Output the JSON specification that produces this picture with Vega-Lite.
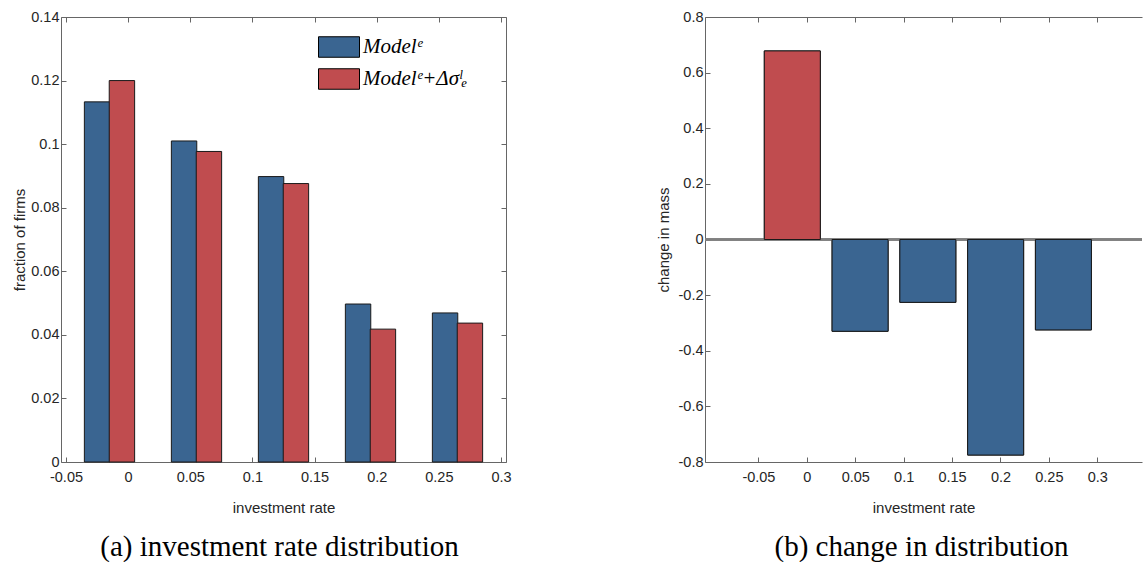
{
  "$schema": "https://vega.github.io/schema/vega-lite/v6.json",
  "background": "white",
  "padding": {"left": 12, "top": 9, "right": 0, "bottom": 0},
  "spacing": 144,
  "config": {
    "view": {"stroke": null},
    "axis": {
      "domainColor": "#666666", "domainWidth": 1,
      "tickColor": "#666666", "tickSize": -5, "tickWidth": 1,
      "labelFont": "Liberation Sans", "labelFontSize": 14.5, "labelColor": "#262626",
      "titleFont": "Liberation Sans", "titleFontSize": 15, "titleFontWeight": "normal", "titleColor": "#262626",
      "grid": false, "labelOverlap": false, "labelFlush": false
    }
  },
  "hconcat": [
    {
      "width": 445,
      "height": 445,
      "title": {"text": "(a) investment rate distribution", "orient": "bottom", "anchor": "middle", "font": "Liberation Serif", "fontSize": 29, "fontWeight": "normal", "color": "#000000", "offset": 18, "dx": -4},
      "data": {"values": [
        {"series": "Modelᵉ", "rate": -0.025, "fraction": 0.1133},
        {"series": "Modelᵉ+Δσˡₑ", "rate": -0.005, "fraction": 0.1200},
        {"series": "Modelᵉ", "rate": 0.045, "fraction": 0.1010},
        {"series": "Modelᵉ+Δσˡₑ", "rate": 0.065, "fraction": 0.0977},
        {"series": "Modelᵉ", "rate": 0.115, "fraction": 0.0898},
        {"series": "Modelᵉ+Δσˡₑ", "rate": 0.135, "fraction": 0.0876},
        {"series": "Modelᵉ", "rate": 0.185, "fraction": 0.0497},
        {"series": "Modelᵉ+Δσˡₑ", "rate": 0.205, "fraction": 0.0418},
        {"series": "Modelᵉ", "rate": 0.255, "fraction": 0.0469},
        {"series": "Modelᵉ+Δσˡₑ", "rate": 0.275, "fraction": 0.0437}
      ]},
      "layer": [
        {
          "mark": {"type": "bar", "width": 25.4, "stroke": "#1a1a1a", "strokeWidth": 1},
          "encoding": {
            "x": {"field": "rate", "type": "quantitative",
              "scale": {"domain": [-0.05, 0.3], "nice": false, "zero": false},
              "axis": {"orient": "bottom", "values": [-0.05, 0, 0.05, 0.1, 0.15, 0.2, 0.25, 0.3], "labelExpr": "'' + datum.value", "labelPadding": 13, "title": "investment rate", "titleY": 45, "titleBaseline": "middle"}},
            "y": {"field": "fraction", "type": "quantitative",
              "scale": {"domain": [0, 0.14], "nice": false, "zero": false},
              "axis": {"orient": "left", "values": [0, 0.02, 0.04, 0.06, 0.08, 0.1, 0.12, 0.14], "labelExpr": "'' + datum.value", "labelPadding": 7, "title": "fraction of firms", "titleX": -42, "titleY": 222.5, "titleAngle": 270, "titleAlign": "center", "titleBaseline": "middle"}},
            "color": {"field": "series", "type": "nominal",
              "scale": {"domain": ["Modelᵉ", "Modelᵉ+Δσˡₑ"], "range": ["#3a6591", "#c04c4f"]},
              "legend": {"orient": "none", "legendX": 267, "legendY": 19, "title": null,
                "symbolType": "M-2,-1H2V1H-2Z", "symbolSize": 420.25, "symbolStrokeColor": "#000000", "symbolStrokeWidth": 1, "symbolOpacity": 1,
                "labelFont": "Liberation Serif", "labelFontStyle": "italic", "labelFontSize": 21, "labelColor": "#000000", "labelOffset": 13, "rowPadding": 6, "padding": 0}}
          }
        },
        {
          "mark": {"type": "bar", "opacity": 0, "width": 1},
          "encoding": {
            "x": {"field": "rate", "type": "quantitative",
              "axis": {"orient": "top", "values": [-0.05, 0, 0.05, 0.1, 0.15, 0.2, 0.25, 0.3], "labels": false, "title": null}},
            "y": {"field": "fraction", "type": "quantitative",
              "axis": {"orient": "right", "values": [0, 0.02, 0.04, 0.06, 0.08, 0.1, 0.12, 0.14], "labels": false, "title": null}}
          }
        }
      ],
      "resolve": {"axis": {"x": "independent", "y": "independent"}}
    },
    {
      "width": 437,
      "height": 445,
      "title": {"text": "(b) change in distribution", "orient": "bottom", "anchor": "middle", "font": "Liberation Serif", "fontSize": 29, "fontWeight": "normal", "color": "#000000", "offset": 18, "dx": -2},
      "data": {"values": [
        {"rate": -0.015, "change": 0.678},
        {"rate": 0.055, "change": -0.330},
        {"rate": 0.125, "change": -0.226},
        {"rate": 0.195, "change": -0.775},
        {"rate": 0.265, "change": -0.325}
      ]},
      "layer": [
        {
          "mark": {"type": "bar", "width": 56, "stroke": "#1a1a1a", "strokeWidth": 1},
          "encoding": {
            "x": {"field": "rate", "type": "quantitative",
              "scale": {"domain": [-0.1, 0.341], "nice": false, "zero": false},
              "axis": {"orient": "bottom", "values": [-0.05, 0, 0.05, 0.1, 0.15, 0.2, 0.25, 0.3], "labelExpr": "'' + datum.value", "labelPadding": 13, "title": "investment rate", "titleY": 45, "titleBaseline": "middle"}},
            "y": {"field": "change", "type": "quantitative",
              "scale": {"domain": [-0.8, 0.8], "nice": false, "zero": false},
              "axis": {"orient": "left", "values": [-0.8, -0.6, -0.4, -0.2, 0, 0.2, 0.4, 0.6, 0.8], "labelExpr": "'' + datum.value", "labelPadding": 7, "title": "change in mass", "titleX": -42, "titleY": 222.5, "titleAngle": 270, "titleAlign": "center", "titleBaseline": "middle"}},
            "color": {"condition": {"test": "datum.change > 0", "value": "#c04c4f"}, "value": "#3a6591"}
          }
        },
        {
          "mark": {"type": "rule", "color": "#808080", "strokeWidth": 2},
          "encoding": {"y": {"datum": 0, "type": "quantitative", "axis": null}}
        },
        {
          "mark": {"type": "bar", "width": 56, "stroke": "#1a1a1a", "strokeWidth": 1},
          "encoding": {
            "x": {"field": "rate", "type": "quantitative",
              "axis": {"orient": "top", "values": [-0.05, 0, 0.05, 0.1, 0.15, 0.2, 0.25, 0.3], "labels": false, "title": null}},
            "y": {"field": "change", "type": "quantitative", "axis": null},
            "color": {"condition": {"test": "datum.change > 0", "value": "#c04c4f"}, "value": "#3a6591"}
          }
        }
      ],
      "resolve": {"axis": {"x": "independent", "y": "independent"}}
    }
  ]
}
